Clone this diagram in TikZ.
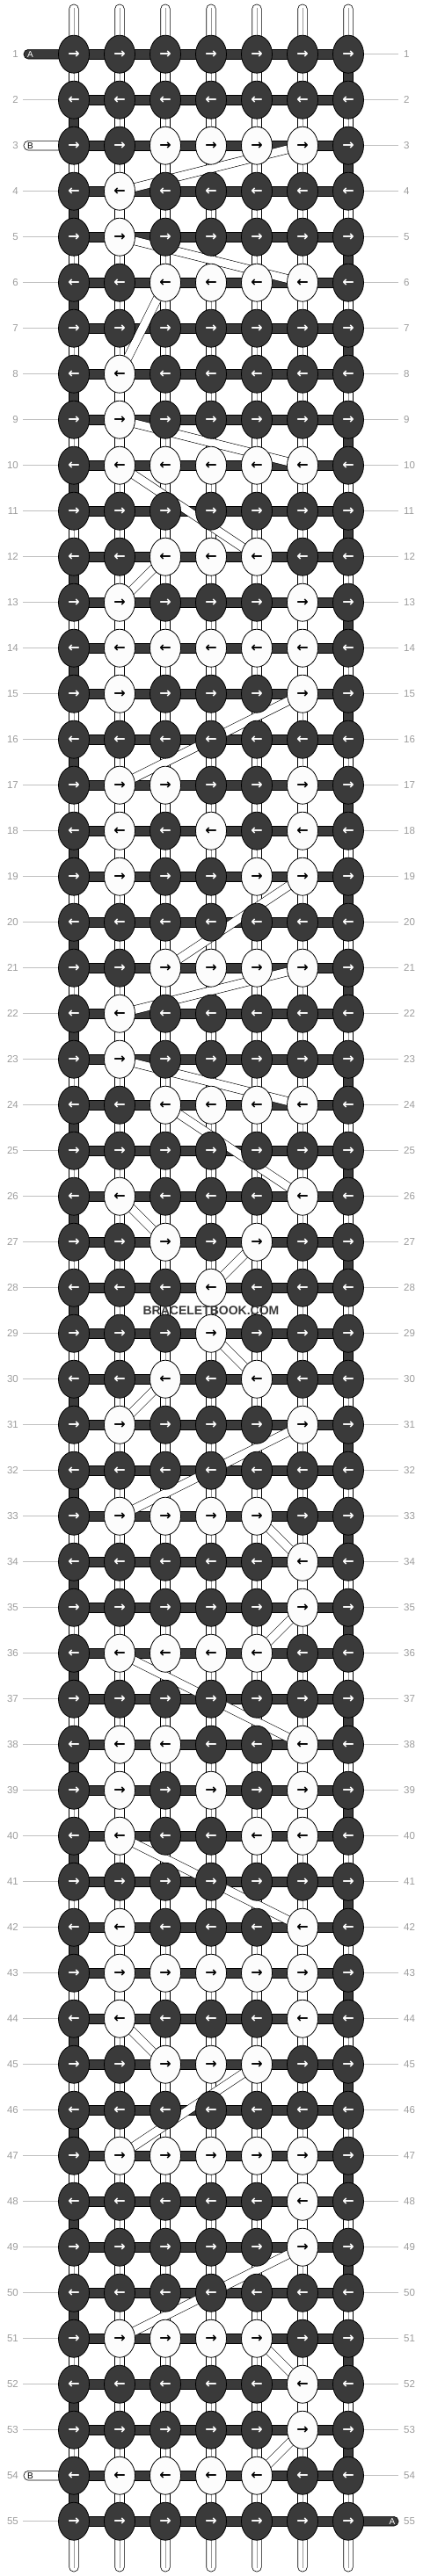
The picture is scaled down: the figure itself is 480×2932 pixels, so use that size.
\documentclass[tikz,border=0pt]{standalone}
\usepackage{fontspec}
\setmainfont{Liberation Sans}
\newfontfamily\arrowfont{DejaVu Sans}
\usetikzlibrary{shapes.geometric}

\definecolor{knotdark}{HTML}{3A3A3A}
\definecolor{knotlight}{HTML}{FCFCFC}
\definecolor{numgray}{HTML}{9C9C9C}
\definecolor{rulegray}{HTML}{C0C0C0}
\definecolor{midgray}{HTML}{9A9A9A}

\pgfdeclarelayer{strands}
\pgfsetlayers{strands,main}

\tikzset{
  knot/.style={ellipse,draw=black,line width=0.8pt,minimum width=35pt,minimum height=43pt,
    inner sep=0pt,font=\arrowfont\bfseries\fontsize{16}{16}\selectfont},
  rownum/.style={inner sep=0pt,text=numgray,font=\fontsize{11.5}{12}\selectfont},
  rowline/.style={rulegray,line width=0.8pt},
  carrier/.style={fill=knotdark,draw=black,line width=0.5pt},
  segdark/.style={fill=knotdark,draw=black,line width=0.5pt},
  segwhite/.style={fill=white,draw=black,line width=0.6pt},
  segmid/.style={midgray,line width=0.6pt},
  floatband/.style={draw=black,line width=0.6pt,double=white,double distance=9pt},
  tagdark/.style={fill=knotdark,draw=black,line width=0.6pt,rounded corners=5pt},
  taglight/.style={fill=white,draw=black,line width=0.6pt,rounded corners=5pt},
  tagtext/.style={inner sep=0pt,font=\fontsize{10}{10}\selectfont},
  logo/.style={text=knotdark,font=\bfseries\fontsize{14}{14}\selectfont}
}

\begin{document}
\begin{tikzpicture}[x=1pt,y=1pt]
\useasboundingbox (0,0) rectangle (480,-2932);

% white knots: row/{columns}
\foreach \r/\cs in {3/{3,4,5,6},4/{2},5/{2},6/{3,4,5,6},8/{2},9/{2},10/{2,3,4,5,6},
    12/{3,4,5},13/{2,6},14/{2,3,4,5,6},15/{2,6},17/{2,3,6},18/{2,4,6},19/{2,5,6},
    21/{3,4,5,6},22/{2},23/{2},24/{3,4,5,6},26/{2,6},27/{3,5},28/{4},29/{4},30/{3,5},
    31/{2,6},33/{2,3,4,5},34/{6},35/{6},36/{2,3,4,5},38/{2,3,6},39/{2,4,6},40/{2,5,6},
    42/{2,6},43/{2,3,4,5,6},44/{2,6},45/{3,4,5},47/{2,3,4,5,6},48/{6},49/{6},
    51/{2,3,4,5},52/{6},53/{6},54/{2,3,4,5}}
  \foreach \c in \cs {\expandafter\gdef\csname w-\r-\c\endcsname{}}

% knots and row numbers
\foreach \r in {1,...,55}{
  \pgfmathsetmacro\yy{-9.7-52*\r}
  \ifodd\r\relax\def\arr{→}\else\def\arr{←}\fi
  \foreach \c in {1,...,7}{
    \ifcsname w-\r-\c\endcsname\def\kfill{knotlight}\def\ktext{black}%
    \else\def\kfill{knotdark}\def\ktext{white}\fi
    \node[knot,fill=\kfill,text=\ktext] (k-\r-\c) at (32+52*\c,\yy) {\arr};
  }
  \node[rownum,anchor=east] (nl-\r) at (21,\yy) {\r};
  \node[rownum,anchor=west] (nr-\r) at (459,\yy) {\r};
}

\begin{pgfonlayer}{strands}
\foreach \r in {2,4,5,...,53,55}
  \draw[rowline,shorten <=5pt] (nl-\r.east) -- (k-\r-1.center);
\foreach \r in {1,...,54}
  \draw[rowline,shorten >=6pt] (k-\r-7.center) -- (nr-\r.west);

% string tags
\draw[tagdark] (27,-56.4) rectangle ([yshift=-5.3pt]k-1-1.center);
\node[tagtext,text=white] (tagA-in) at (34.5,-61.7) {A};
\draw[taglight] (27,-160.4) rectangle ([yshift=-5.3pt]k-3-1.center);
\node[tagtext] (tagB-in) at (34.5,-165.7) {B};
\draw[taglight] (27,-2812.4) rectangle ([yshift=-5.3pt]k-54-1.center);
\node[tagtext] (tagB-out) at (34.5,-2817.7) {B};
\draw[tagdark] ([yshift=5.3pt]k-55-7.center) rectangle (453,-2875);
\node[tagtext,text=white] (tagA-out) at (446,-2869.7) {A};

% carrier rows
\foreach \r in {1,...,55}
  \draw[carrier] ([yshift=5.3pt]k-\r-1.center) rectangle ([yshift=-5.3pt]k-\r-7.center);

% loose ends
\foreach \c in {1,...,7}{
  \draw[segwhite,rounded corners=5pt] (26.7+52*\c,-5) rectangle ([xshift=5.3pt]k-1-\c.center);
  \draw[segmid] (32+52*\c,-9) -- (k-1-\c.center);
  \draw[segwhite,rounded corners=5pt] ([xshift=-5.3pt]k-55-\c.center) rectangle (37.3+52*\c,-2927);
  \draw[segmid] (k-55-\c.center) -- (32+52*\c,-2923);
}

% vertical strands
\foreach \r in {1,...,54}{
  \pgfmathtruncatemacro\rn{\r+1}
  \ifodd\r\relax\def\rim{7}\else\def\rim{1}\fi
  \foreach \c in {1,...,7}{
    \ifnum\c=\rim\relax
      \draw[segdark] ([xshift=-5.3pt]k-\r-\c.center) rectangle ([xshift=5.3pt]k-\rn-\c.center);
    \else
      \draw[segwhite] ([xshift=-5.3pt]k-\r-\c.center) rectangle ([xshift=5.3pt]k-\rn-\c.center);
      \def\midline{1}%
      \ifcsname w-\r-\c\endcsname\ifcsname w-\rn-\c\endcsname\def\midline{0}\fi\fi
      \ifnum\midline=1 \draw[segmid] (k-\r-\c.center) -- (k-\rn-\c.center);\fi
    \fi
  }
}

% string B floating behind
\foreach \a/\b in {3-6/4-2,5-2/6-6,6-3/8-2,9-2/10-6,10-2/12-5,12-3/13-2,15-6/17-2,
    19-6/21-3,21-6/22-2,23-2/24-6,24-3/26-6,26-2/27-3,27-5/28-4,29-4/30-5,30-3/31-2,
    31-6/33-2,33-5/34-6,35-6/36-5,36-2/38-6,40-2/42-6,44-2/45-3,45-5/47-2,49-6/51-2,
    51-5/52-6,53-6/54-5}
  \draw[floatband] (k-\a.center) -- (k-\b.center);
\end{pgfonlayer}

\node[logo] (watermark) at (240,-1491.7) {BRACELETBOOK.COM};
\end{tikzpicture}
\end{document}
